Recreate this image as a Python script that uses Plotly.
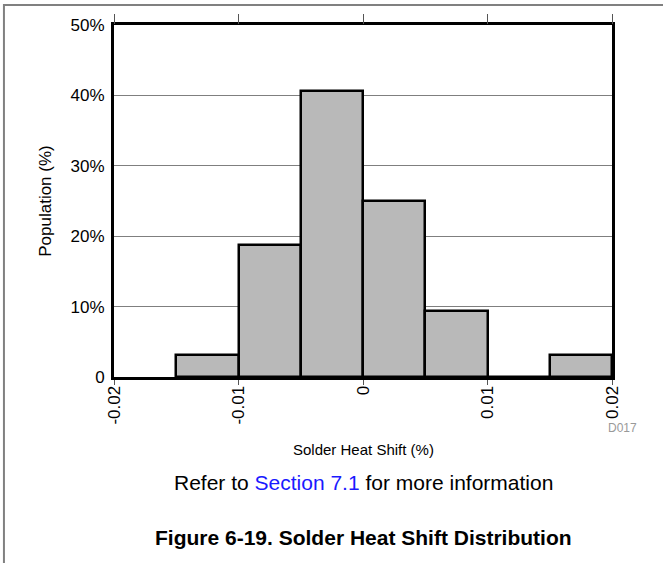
import plotly.graph_objects as go

bin_centers = [-0.0125, -0.0075, -0.0025, 0.0025, 0.0075, 0.0125, 0.0175]
population = [3.125, 18.75, 40.625, 25.0, 9.375, 0.0, 3.125]
bin_width = 0.005
x_ticks = [-0.02, -0.01, 0, 0.01, 0.02]
x_tick_text = ["-0.02", "-0.01", "0", "0.01", "0.02"]
y_ticks = [0, 10, 20, 30, 40, 50]
y_tick_text = ["0", "10%", "20%", "30%", "40%", "50%"]

font = "Liberation Sans, Arial, sans-serif"

fig = go.Figure()
fig.add_trace(go.Bar(
    x=bin_centers, y=population, width=[bin_width] * len(bin_centers),
    marker=dict(color="#b9b9b9", line=dict(color="black", width=2.5)),
    showlegend=False, hoverinfo="skip",
))
# invisible trace so the top tick axis is drawn
fig.add_trace(go.Scatter(x=[x_ticks[0], x_ticks[-1]], y=[0, 0], xaxis="x2",
                         mode="markers", marker=dict(opacity=0), showlegend=False,
                         hoverinfo="skip"))

fig.update_layout(
    width=663, height=563,
    margin=dict(l=114, r=51, t=25, b=186),
    paper_bgcolor="white", plot_bgcolor="white",
    font=dict(family=font, color="black", size=17),
    bargap=0,
    xaxis=dict(range=[-0.02, 0.02], tickvals=x_ticks, ticktext=x_tick_text,
               tickangle=-90, ticks="outside", ticklen=5, tickcolor="#555",
               tickwidth=1, showgrid=False, zeroline=False,
               showline=True, linecolor="black", linewidth=3, mirror=True,
               ticklabelstandoff=-6, tickfont=dict(size=17)),
    xaxis2=dict(range=[-0.02, 0.02], overlaying="x", side="top",
                tickvals=x_ticks, ticks="outside", ticklen=10, tickcolor="#555",
                tickwidth=1, showticklabels=False, showgrid=False,
                zeroline=False, showline=False),
    yaxis=dict(range=[0, 50], tickvals=y_ticks, ticktext=y_tick_text,
               showgrid=True, gridcolor="#7f7f7f", gridwidth=1, zeroline=False,
               showline=True, linecolor="black", linewidth=3, mirror=True,
               ticks="", ticklabelstandoff=3, tickfont=dict(size=17)),
    annotations=[
        dict(text="Population (%)", x=-0.139, y=0.5, xref="paper", yref="paper",
             xanchor="center", yanchor="middle",
             textangle=-90, showarrow=False, font=dict(size=17)),
        dict(text="Solder Heat Shift (%)", x=0.5, y=-0.207, xref="paper", yref="paper",
             xanchor="center", yanchor="middle",
             showarrow=False, font=dict(size=15)),
        dict(text="D017", x=1.022, y=-0.145, xref="paper", yref="paper",
             xanchor="center", yanchor="middle",
             showarrow=False, font=dict(size=12, color="#999")),
        dict(text="Refer to <span style='color:#1a1aff'>Section 7.1</span> for more information",
             x=0.5, y=-0.301, xref="paper", yref="paper", showarrow=False,
             xanchor="center", yanchor="middle",
             font=dict(size=21)),
        dict(text="<b>Figure 6-19. Solder Heat Shift Distribution</b>",
             x=0.5, y=-0.457, xref="paper", yref="paper", showarrow=False,
             xanchor="center", yanchor="middle",
             font=dict(size=21)),
    ],
    shapes=[
        dict(type="rect", xref="paper", yref="paper", x0=-0.221, x1=1.3,
             y0=1.057, y1=-0.7, line=dict(color="#808080", width=2),
             fillcolor="rgba(0,0,0,0)", layer="below"),
    ],
)

fig.write_html("out.html", config={"displayModeBar": False},
               post_script="document.body.style.margin='0px';")
